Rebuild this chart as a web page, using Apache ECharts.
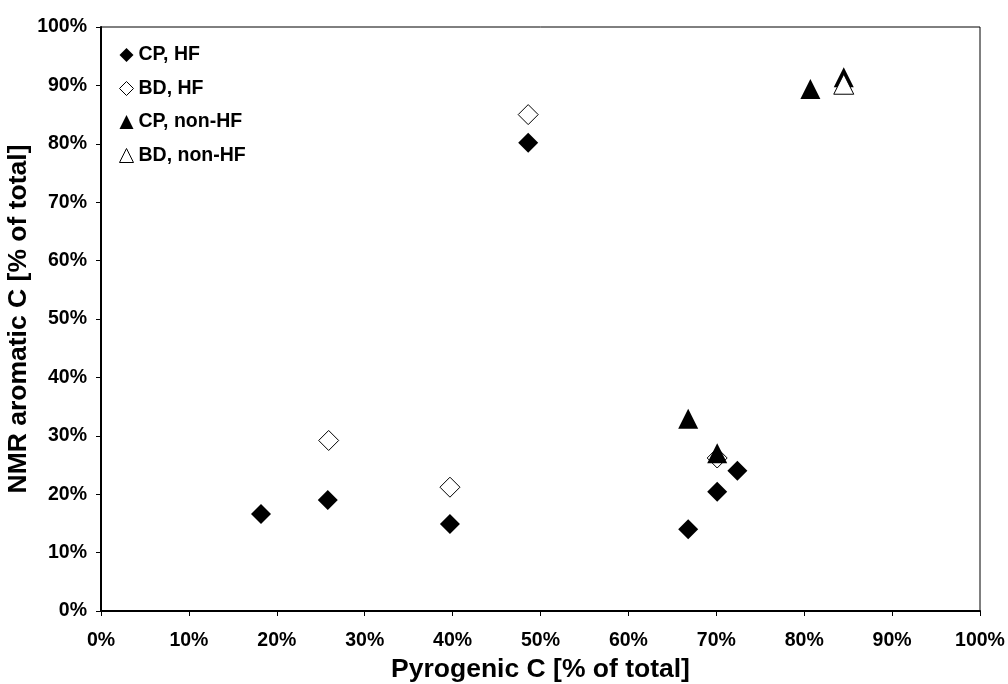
<!DOCTYPE html>
<html><head><meta charset="utf-8">
<script src="https://cdn.jsdelivr.net/npm/echarts@6/dist/echarts.min.js"></script>
<style>html,body{margin:0;padding:0;background:#fff;}#c{width:1008px;height:684px;}</style>
</head><body><div id="c"></div>
<script>
const seriesNames = ['CP, HF', 'BD, HF', 'CP, non-HF', 'BD, non-HF'];
const cpHF = [[18.2,16.6],[25.8,19.0],[39.7,14.9],[48.6,80.2],[66.8,14.0],[70.1,20.4],[72.4,24.0]];
const bdHF = [[25.9,29.2],[39.7,21.2],[48.6,85.0],[70.1,26.2]];
const cpNonHF = [[66.8,32.9],[70.1,27.0],[80.7,89.4],[84.5,91.4]];
const bdNonHF = [[84.5,90.2]];
const xTitle = 'Pyrogenic C [% of total]';
const yTitle = 'NMR aromatic C [% of total]';

const FONT = 'Liberation Sans, Arial, sans-serif';
const filled = {color:'#000', borderColor:'#000', borderWidth:0, opacity:1};
const open = {color:'#fff', borderColor:'#000', borderWidth:1, opacity:1};
function mk(name, data, symbol, style){
  return {name, type:'scatter', data, symbol, symbolSize:[20,20], itemStyle:style, emphasis:{disabled:true}};
}
const axisCommon = {
  min:0, max:100, interval:10,
  axisLine:{show:true, lineStyle:{color:'#000', width:2}},
  axisTick:{show:true, inside:false, length:5, lineStyle:{color:'#000', width:1}},
  splitLine:{show:false},
  axisLabel:{formatter:'{value}%', color:'#000', fontFamily:FONT, fontWeight:'bold', fontSize:19.5},
  nameLocation:'middle',
  nameTextStyle:{color:'#000', fontFamily:FONT, fontWeight:'bold', fontSize:26.5}
};
const chart = echarts.init(document.getElementById('c'), null, {renderer:'canvas'});
chart.setOption({
  animation:false,
  backgroundColor:'#fff',
  grid:{left:101, right:28, top:27, bottom:73, containLabel:false, outerBoundsMode:'none',
        show:true, borderColor:'#000', borderWidth:1, backgroundColor:'transparent'},
  legend:{
    orient:'vertical', left:114, top:40, itemWidth:14, itemHeight:14, itemGap:13.5,
    textStyle:{color:'#000', fontFamily:FONT, fontWeight:'bold', fontSize:19.5},
    data:[
      {name:seriesNames[0], icon:'diamond', itemStyle:filled},
      {name:seriesNames[1], icon:'diamond', itemStyle:open},
      {name:seriesNames[2], icon:'triangle', itemStyle:filled},
      {name:seriesNames[3], icon:'triangle', itemStyle:open}
    ]
  },
  xAxis:Object.assign({}, axisCommon, {type:'value', name:xTitle, nameGap:45,
    axisLabel:Object.assign({}, axisCommon.axisLabel, {margin:20})}),
  yAxis:Object.assign({}, axisCommon, {type:'value', name:yTitle, nameGap:69, nameMoveOverlap:false,
    axisLabel:Object.assign({}, axisCommon.axisLabel, {margin:14})}),
  series:[
    mk(seriesNames[0], cpHF, 'diamond', filled),
    mk(seriesNames[1], bdHF, 'diamond', open),
    mk(seriesNames[2], cpNonHF, 'triangle', filled),
    mk(seriesNames[3], bdNonHF, 'triangle', open)
  ]
});
</script></body></html>
